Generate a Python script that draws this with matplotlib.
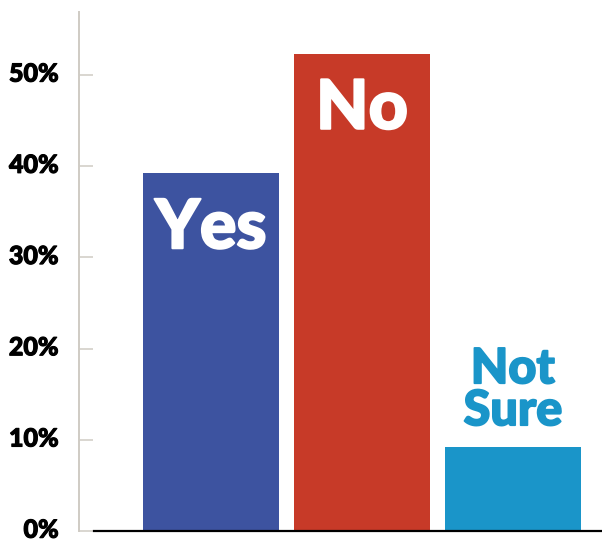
import matplotlib.pyplot as plt
import matplotlib.patheffects as pe
import matplotlib.transforms as mtransforms
from matplotlib.ticker import FuncFormatter

# poll answers (percent)
answers = ["Yes", "No", "Not\nSure"]
shares = [39.2, 52.3, 9.2]
bar_colors = ["#3D53A0", "#C73A28", "#1A95C9"]
y_ticks = [0, 10, 20, 30, 40, 50]

plt.rcParams['font.family'] = ['Lato', 'DejaVu Sans']

fig = plt.figure(figsize=(6.02, 5.42), dpi=100)
ax = fig.add_axes([0.132, 0.0203, 0.868, 0.9576])

x = list(range(len(answers)))
ax.bar(x, shares, width=0.9, color=bar_colors, zorder=2)

ax.set_xlim(-0.87, 2.59)
ax.set_ylim(0, 56.9)
ax.set_xticks([])
ax.set_yticks(y_ticks)
ax.yaxis.set_major_formatter(FuncFormatter(lambda v, p: f"{v:.0f}%"))
ax.tick_params(axis="y", direction="in", length=10, width=1.1,
               color="#CFCBC4", pad=15, labelsize=18)
# nudge tick labels up a touch so the 0% label stays inside the figure
nudge = mtransforms.ScaledTranslation(0, 2 / 72, fig.dpi_scale_trans)
for lab in ax.get_yticklabels():
    lab.set_fontweight("black")
    lab.set_path_effects([pe.withStroke(linewidth=0.8, foreground="black")])
    lab.set_transform(lab.get_transform() + nudge)

for s in ["top", "right", "bottom"]:
    ax.spines[s].set_visible(False)
ax.spines["left"].set_color("#CFCBC4")
ax.spines["left"].set_linewidth(1.4)

# black baseline starting after the tick marks
ax.plot([0.027, 1.0], [0, 0], transform=ax.transAxes, color="black",
        lw=1.6, clip_on=False, zorder=3)

# labels: inside the tall bars, above the short one
for xi, val, name, col in zip(x, shares, answers, bar_colors):
    if val > 20:
        ax.text(xi, val - 8.2, name, ha="center", va="baseline",
                color="white", fontsize=49, fontweight="black", zorder=4,
                path_effects=[pe.withStroke(linewidth=1.5, foreground="white")])
    else:
        lines = name.split("\n")
        for k, line in enumerate(reversed(lines)):
            ax.text(xi, val + 2.4 + k * 4.6, line, ha="center", va="baseline",
                    color=col, fontsize=35, fontweight="black", zorder=4,
                    path_effects=[pe.withStroke(linewidth=1.3, foreground=col)])

fig.savefig("out.png", dpi=100)
